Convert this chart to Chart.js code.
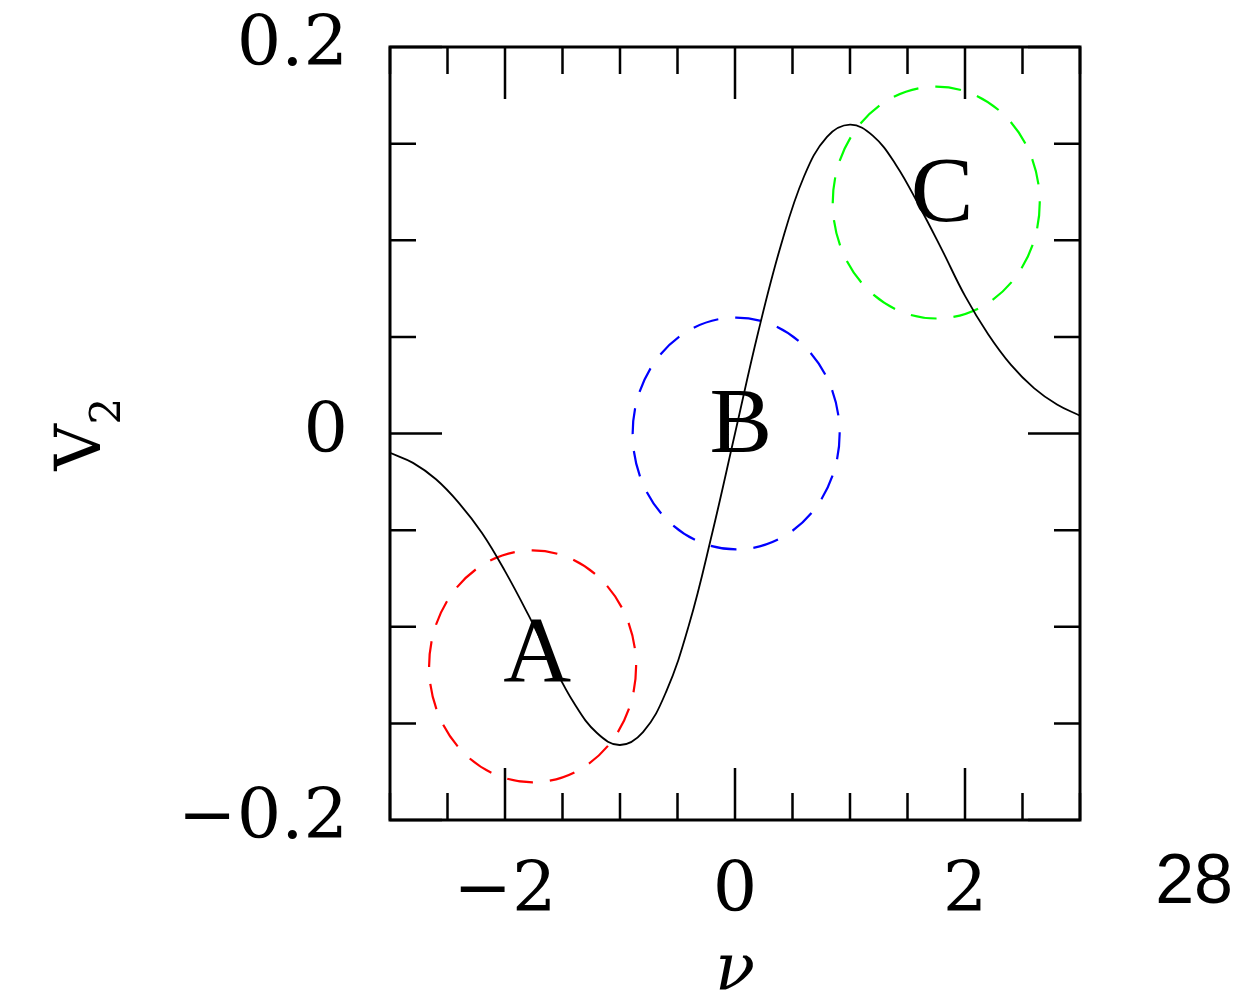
<!DOCTYPE html>
<html>
<head>
<meta charset="utf-8">
<script src="https://cdn.jsdelivr.net/npm/chart.js@4"></script>
<style>
  html, body { margin: 0; padding: 0; background: #fff; }
  #wrap { width: 1260px; height: 990px; }
</style>
</head>
<body>
<div id="wrap"><canvas id="grafico" width="1260" height="990"></canvas></div>
<script>
// curva V2(nu)
const nu = [-3, -2.8, -2.6, -2.4, -2.2, -2, -1.8, -1.6, -1.4, -1.2, -1, -0.8, -0.6, -0.4, -0.2, 0,
            0.2, 0.4, 0.6, 0.8, 1, 1.2, 1.4, 1.6, 1.8, 2, 2.2, 2.4, 2.6, 2.8, 3];
const v2 = [-0.0100, -0.0152, -0.0237, -0.0360, -0.0515, -0.0712, -0.0935, -0.1175, -0.1395, -0.1550, -0.1612,
            -0.1545, -0.1338, -0.0990, -0.0520, 0.0000, 0.0520, 0.0975, 0.1330, 0.1535, 0.1598, 0.1540,
            0.1390, 0.1180, 0.0950, 0.0712, 0.0515, 0.0355, 0.0235, 0.0150, 0.0092];

// círculos tracejados A, B, C (centro e raios em unidades dos eixos)
const circleNames = ['A', 'B', 'C'];
const circleColors = ['#ff0000', '#0000ff', '#00ff00'];
const circleX = [-1.76, 0.01, 1.75];
const circleY = [-0.1205, 0.0, 0.1195];
const circleRx = [0.9, 0.9, 0.9];
const circleRy = [0.06, 0.06, 0.06];
const letterX = [-1.72, 0.05, 1.80];
const letterY = [-0.128, -0.0098, 0.110];

// rótulos dos eixos
const xTickValues = [-2, 0, 2];
const xTickTexts = ['\u22122', '0', '2'];
const yTickValues = [-0.2, 0, 0.2];
const yTickTexts = ['\u22120.2', '0', '0.2'];

function labelFor(v, vals, texts) {
  for (let i = 0; i < vals.length; i++) {
    if (Math.abs(v - vals[i]) < 1e-9) return texts[i];
  }
  return '';
}

const serif = "'DejaVu Serif', serif";

// moldura, marcas internas, círculos e textos
const desenho = {
  id: 'desenho',
  beforeDatasetsDraw(chart) {
    const { ctx, scales: { x, y } } = chart;
    ctx.save();
    ctx.lineWidth = 2.2;
    ctx.setLineDash([26, 17]);
    for (let i = 0; i < circleX.length; i++) {
      const cx = x.getPixelForValue(circleX[i]);
      const cy = y.getPixelForValue(circleY[i]);
      const rx = Math.abs(x.getPixelForValue(circleX[i] + circleRx[i]) - cx);
      const ry = Math.abs(y.getPixelForValue(circleY[i] + circleRy[i]) - cy);
      ctx.strokeStyle = circleColors[i];
      ctx.beginPath();
      ctx.ellipse(cx, cy, rx, ry, 0, 0, Math.PI * 2);
      ctx.stroke();
    }
    ctx.restore();
  },
  afterDatasetsDraw(chart) {
    const { ctx, chartArea: a, scales: { x, y } } = chart;
    ctx.save();
    ctx.strokeStyle = '#000';
    ctx.lineWidth = 3;
    ctx.strokeRect(a.left, a.top, a.right - a.left, a.bottom - a.top);

    ctx.lineWidth = 2.5;
    ctx.beginPath();
    x.ticks.forEach(t => {
      const px = x.getPixelForValue(t.value);
      const len = labelFor(t.value, xTickValues, xTickTexts) ? 52 : 27;
      ctx.moveTo(px, a.top); ctx.lineTo(px, a.top + len);
      ctx.moveTo(px, a.bottom); ctx.lineTo(px, a.bottom - len);
    });
    y.ticks.forEach(t => {
      const py = y.getPixelForValue(t.value);
      const len = labelFor(t.value, yTickValues, yTickTexts) ? 52 : 26;
      ctx.moveTo(a.left, py); ctx.lineTo(a.left + len, py);
      ctx.moveTo(a.right, py); ctx.lineTo(a.right - len, py);
    });
    ctx.stroke();

    // letras A, B, C
    ctx.fillStyle = '#000';
    ctx.font = "94px 'Liberation Serif', serif";
    ctx.textAlign = 'center';
    ctx.textBaseline = 'alphabetic';
    for (let i = 0; i < circleNames.length; i++) {
      ctx.fillText(circleNames[i], x.getPixelForValue(letterX[i]), y.getPixelForValue(letterY[i]));
    }

    // título do eixo x
    ctx.font = 'italic 66px ' + serif;
    ctx.fillText('\u03bd', x.getPixelForValue(0), 990);

    // título do eixo y: V com índice 2, girado
    ctx.save();
    ctx.translate(a.left - 290, y.getPixelForValue(0) + 37);
    ctx.rotate(-Math.PI / 2);
    ctx.textAlign = 'left';
    ctx.font = '64px ' + serif;
    ctx.fillText('V', 0, 0);
    ctx.font = '42px ' + serif;
    ctx.fillText('2', 46, 20);
    ctx.restore();

    // número da página
    ctx.font = "70px 'Liberation Sans', Arial, sans-serif";
    ctx.textAlign = 'right';
    ctx.fillText('28', 1233, 903);
    ctx.restore();
  }
};

const ctx = document.getElementById('grafico').getContext('2d');
const grafico = new Chart(ctx, {
  type: 'line',
  data: {
    datasets: [{
      data: nu.map((v, i) => ({ x: v, y: v2[i] })),
      borderColor: '#000',
      borderWidth: 1.8,
      pointRadius: 0,
      tension: 0.4,
      fill: false
    }]
  },
  options: {
    responsive: false,
    animation: false,
    devicePixelRatio: 1,
    layout: { padding: { top: 47, right: 180, left: 0, bottom: 0 } },
    plugins: { legend: { display: false }, tooltip: { enabled: false } },
    scales: {
      x: {
        type: 'linear', min: -3, max: 3,
        afterFit: s => { s.height = 170; s.paddingLeft = 0; s.paddingRight = 0; },
        grid: { display: false },
        border: { display: false },
        ticks: {
          stepSize: 0.5, autoSkip: false, maxRotation: 0, minRotation: 0,
          padding: 23, color: '#000',
          font: { family: serif, size: 70 },
          callback: v => labelFor(v, xTickValues, xTickTexts)
        }
      },
      y: {
        type: 'linear', min: -0.2, max: 0.2,
        afterFit: s => { s.width = 390; s.paddingTop = 0; s.paddingBottom = 0; },
        grid: { display: false },
        border: { display: false },
        ticks: {
          stepSize: 0.05, autoSkip: false,
          padding: 34, color: '#000',
          font: { family: serif, size: 70 },
          callback: v => labelFor(v, yTickValues, yTickTexts)
        }
      }
    }
  },
  plugins: [desenho]
});
</script>
</body>
</html>
